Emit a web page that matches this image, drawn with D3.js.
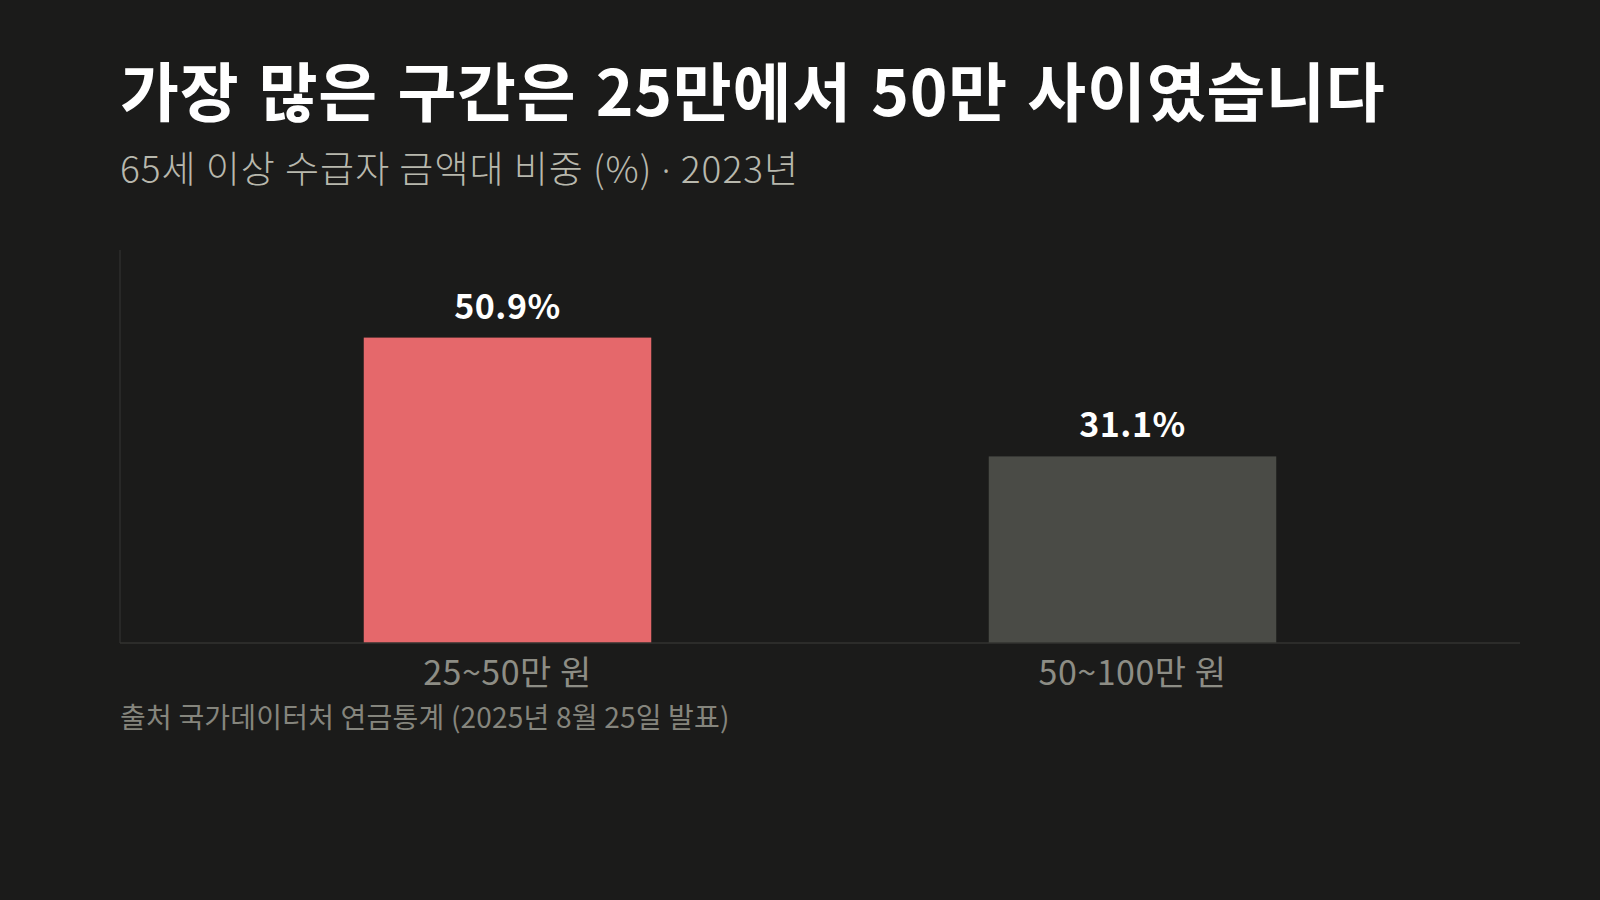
<!DOCTYPE html>
<html>
<head>
<meta charset="utf-8">
<script src="https://cdn.jsdelivr.net/npm/d3@7"></script>
<style>
  html, body { margin: 0; padding: 0; background: #1b1b1a; }
  svg { display: block; font-family: "Noto Sans CJK KR", "Noto Sans", sans-serif; }
</style>
</head>
<body>
<div id="chart"></div>
<script>
const categories = ["25~50만 원", "50~100만 원"];
const shares = [50.9, 31.1];
const barColors = ["#e5686b", "#4a4b46"];

const titleText = "가장 많은 구간은 25만에서 50만 사이였습니다";
const subtitleParts = ["65세 이상 수급자 금액대 비중 (%) ", "·", " 2023년"];
const sourceText = "출처 국가데이터처 연금통계 (2025년 8월 25일 발표)";

const size = { width: 1600, height: 900 };
const margin = { top: 250, right: 80, bottom: 257, left: 120 };
const width = size.width - margin.left - margin.right;
const height = size.height - margin.top - margin.bottom;

const svg = d3.select("#chart")
    .append("svg")
    .attr("width", size.width)
    .attr("height", size.height);

svg.append("rect")
    .attr("width", size.width)
    .attr("height", size.height)
    .attr("fill", "#1b1b1a");

// titles
svg.append("text")
    .attr("x", 120)
    .attr("y", 116)
    .attr("fill", "#ffffff")
    .style("font-size", "64px")
    .style("font-weight", "700")
    .style("letter-spacing", "0.8px")
    .style("word-spacing", "4px")
    .text(titleText);

const sub = svg.append("text")
    .attr("x", 120)
    .attr("y", 183)
    .attr("fill", "#b8b8ad")
    .style("font-size", "37px")
    .style("font-weight", "300")
    .style("letter-spacing", "1px");
sub.selectAll("tspan")
    .data(subtitleParts)
    .enter()
    .append("tspan")
    .style("font-family", (d, i) => i === 1 ? "'Noto Sans', sans-serif" : null)
    .text((d) => d);

const g = svg.append("g")
    .attr("transform", `translate(${margin.left},${margin.top})`);

const xScale = d3.scaleBand()
    .domain(categories)
    .range([0, width])
    .paddingInner(0.54)
    .paddingOuter(0.39);

const yScale = d3.scaleLinear()
    .domain([0, 65.5])
    .range([height, 0]);

// axis lines
g.append("line")
    .attr("x1", 0).attr("x2", 0)
    .attr("y1", 0).attr("y2", height)
    .attr("stroke", "#2e2e2c")
    .attr("stroke-width", 1.5);

// bars
g.selectAll("rect.bar")
    .data(shares)
    .enter()
    .append("rect")
    .attr("class", "bar")
    .attr("x", (d, i) => xScale(categories[i]))
    .attr("y", (d) => yScale(d))
    .attr("width", xScale.bandwidth())
    .attr("height", (d) => height - yScale(d))
    .attr("fill", (d, i) => barColors[i]);

g.append("line")
    .attr("x1", 0).attr("x2", width)
    .attr("y1", height).attr("y2", height)
    .attr("stroke", "#333331")
    .attr("stroke-width", 1.5);

// value labels
g.selectAll("text.value")
    .data(shares)
    .enter()
    .append("text")
    .attr("class", "value")
    .attr("text-anchor", "middle")
    .attr("x", (d, i) => xScale(categories[i]) + xScale.bandwidth() / 2)
    .attr("y", (d) => yScale(d) - 19)
    .attr("fill", "#ffffff")
    .style("font-size", "34px")
    .style("font-weight", "700")
    .style("letter-spacing", "0.5px")
    .text((d) => d.toFixed(1) + "%");

// category labels
const xAxis = d3.axisBottom(xScale).tickSize(0).tickPadding(0);
g.append("g")
    .attr("class", "x-axis")
    .attr("transform", `translate(0,${height})`)
    .call(xAxis)
    .call((ax) => ax.select(".domain").remove())
    .selectAll("text")
    .attr("dy", null)
    .attr("y", 42)
    .attr("fill", "#8d8d85")
    .style("font-family", "'Noto Sans CJK KR', 'Noto Sans', sans-serif")
    .style("font-size", "34px")
    .style("letter-spacing", "0.5px");

svg.append("text")
    .attr("x", 120)
    .attr("y", 728)
    .attr("fill", "#85857d")
    .style("font-size", "28px")
    .style("letter-spacing", "0.2px")
    .text(sourceText);
</script>
</body>
</html>
